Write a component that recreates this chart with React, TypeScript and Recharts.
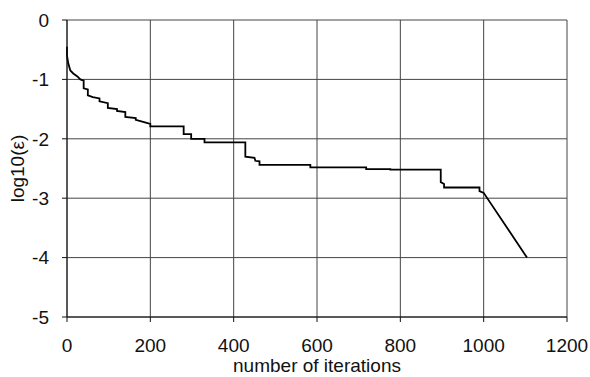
import { CartesianGrid, Label, Line, LineChart, XAxis, YAxis } from "recharts"

const iterations = [
  0, 0, 3, 8, 15, 25, 32, 40, 40, 50, 50, 62, 78, 78, 98, 98, 120, 120, 140, 140, 165, 165, 185, 200, 200, 280, 280, 298,
  298, 330, 330, 428, 428, 450, 452, 462, 462, 584, 584, 718, 718, 776, 776, 897, 897, 905, 905, 990, 990, 1000, 1104,
]
const logEps = [
  -0.45, -0.6, -0.73, -0.85, -0.9, -0.95, -1.0, -1.02, -1.15, -1.17, -1.27, -1.3, -1.32, -1.37, -1.4, -1.48, -1.5, -1.53,
  -1.55, -1.63, -1.65, -1.68, -1.72, -1.75, -1.79, -1.79, -1.92, -1.92, -2.0, -2.0, -2.06, -2.06, -2.3, -2.32, -2.37, -2.38,
  -2.44, -2.44, -2.48, -2.48, -2.51, -2.51, -2.52, -2.52, -2.73, -2.76, -2.82, -2.82, -2.88, -2.91, -4.0,
]
const xTicks = [0, 200, 400, 600, 800, 1000, 1200]
const yTicks = [-5, -4, -3, -2, -1, 0]

const data = iterations.map((x, i) => ({ x, y: logEps[i] }))

const font = "'Liberation Sans', Arial, sans-serif"

export default function App() {
  return (
    <div style={{ position: "absolute", left: 0, top: 0, background: "#fff" }}>
      <LineChart width={590} height={377} data={data} margin={{ top: 20, right: 23, bottom: 0, left: 0 }}>
        <CartesianGrid stroke="#444" strokeWidth={1} />
        <XAxis
          dataKey="x"
          type="number"
          domain={[0, 1200]}
          ticks={xTicks}
          height={60}
          tickSize={5}
          tickMargin={17}
          stroke="#111"
          tick={{ fill: "#111", fontSize: 19, fontFamily: font }}
        >
          <Label value="number of iterations" position="insideBottom" offset={5} fill="#111" fontSize={19} fontFamily={font} />
        </XAxis>
        <YAxis
          type="number"
          domain={[-5, 0]}
          ticks={yTicks}
          width={67}
          tickSize={5}
          tickMargin={13}
          stroke="#111"
          tick={{ fill: "#111", fontSize: 19, fontFamily: font }}
        >
          <Label
            value="log10(ε)"
            angle={-90}
            position="insideLeft"
            offset={17}
            fill="#111"
            fontSize={19}
            fontFamily={font}
            style={{ textAnchor: "middle" }}
          />
        </YAxis>
        <Line dataKey="y" type="linear" stroke="#000" strokeWidth={1.8} dot={false} isAnimationActive={false} />
      </LineChart>
    </div>
  )
}
